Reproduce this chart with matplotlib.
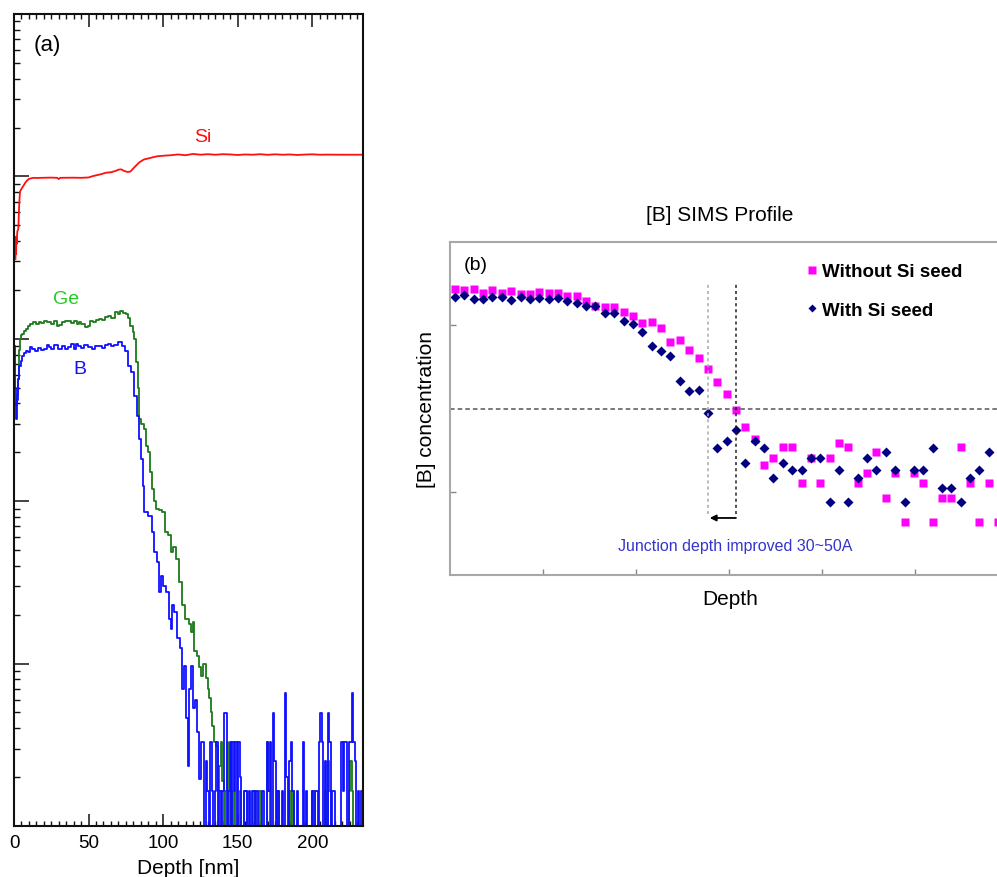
import numpy as np
import matplotlib
matplotlib.use("Agg")
import matplotlib.pyplot as plt
from matplotlib.ticker import MultipleLocator, LogLocator, NullFormatter, FixedLocator

plt.rcParams["font.family"] = ["Liberation Sans", "DejaVu Sans"]

# ---- (a) SIMS depth profiles, arbitrary units, log scale ----
si_depth = [1.0, 1.2, 1.4, 1.6, 1.8, 2.2, 2.9, 3.5, 4.0, 5.0,
            6.3, 7.5, 8.5, 10, 13, 16, 20, 25, 29, 30,
            31, 35, 40, 45, 50, 53, 55, 58, 62, 65,
            68, 70, 72, 73, 74, 76, 78, 80, 82, 84,
            87, 90, 93, 96, 100, 105, 110, 115, 120, 125,
            130, 135, 140, 145, 150, 155, 160, 165, 170, 175,
            180, 185, 190, 195, 200, 205, 210, 215, 220, 225,
            230, 234]
si_conc = [31000, 42500, 33300, 41200, 38400, 45700, 47500, 67600, 80400, 83800,
           87500, 91300, 93800, 96600, 98000, 97800, 98100, 98300, 98000, 96300,
           98000, 98100, 98200, 98000, 98500, 100500, 101500, 103000, 105500, 106000,
           108000, 110000, 110500, 109000, 108000, 106500, 107000, 112000, 117000, 122000,
           127000, 129000, 131000, 133000, 134000, 135000, 136500, 135000, 137500, 136000,
           137000, 136000, 137000, 136500, 135500, 136500, 136000, 137000, 135800, 136800,
           136000, 136500, 135500, 136300, 136800, 136000, 136200, 136100, 136000, 136000,
           136000, 136000]

ge_depth = [1.5, 2.2, 2.9, 3.5, 4.0, 5.0, 6.2, 7.5, 8.5, 10,
            11.9, 14, 16, 17.4, 19, 21, 23, 24.2, 26, 28,
            30, 31, 33, 35, 37.6, 39, 41, 43, 44.3, 46,
            48.8, 50, 52.1, 54, 56, 57.7, 60, 62, 64.4, 66,
            68.9, 70, 72.3, 74, 75.6, 77, 79, 80, 81.2, 82.3,
            83.5, 84.6, 86, 87.9, 89.3, 90.5, 91.3, 93.3, 95, 96,
            98, 100, 102.7, 104, 106, 107.5, 109.4, 111.4, 113.4, 116.1,
            118, 119.5, 120.5, 121.5, 123.5, 125, 126.2, 127.5, 129.5, 130.5,
            131.5, 132.5, 133.6, 135, 136.2, 137, 138.3, 139, 140.3]
ge_conc = [3890, 4500, 5680, 8500, 10000, 10500, 10740, 11200, 11530, 12000,
           12360, 12700, 12300, 12740, 12500, 12900, 12600, 12740, 12400, 12800,
           12000, 12100, 12600, 12900, 12910, 12500, 12800, 12400, 12740, 12300,
           11860, 12000, 12910, 12700, 13000, 13270, 13100, 13600, 13870, 13500,
           14660, 14200, 14860, 14500, 14260, 13500, 12020, 11000, 10000, 7210,
           5000, 3220, 3000, 2790, 2200, 2000, 1520, 1190, 1000, 900,
           880, 861, 649, 620, 489, 520, 443, 320, 228, 189,
           175, 157, 180, 119, 112, 95, 84, 100, 81, 70,
           61, 50, 41.5, 33, 31, 16.5, 23.5, 33, 18.8]
# noise floor, 1 nm steps from 141 nm
ge_tail = [0, 16.5, 33, 0, 16.5, 16.5, 0, 16.5, 0, 0,
           0, 16.5, 0, 0, 16.5, 16.5, 0, 0, 0, 0,
           16.5, 0, 0, 0, 16.5, 0, 0, 0, 0, 33,
           16.5, 0, 0, 0, 0, 0, 16.5, 0, 0, 0,
           0, 0, 0, 0, 16.5, 0, 16.5, 0, 0, 0,
           0, 0, 0, 0, 0, 0, 0, 0, 0, 16.5,
           16.5, 0, 0, 0, 0, 0, 0, 0, 16.5, 0,
           25, 16.5, 0, 0, 0, 0, 0, 0, 0, 0,
           0, 0, 0, 0, 16.5, 25, 16.5, 0, 0, 0,
           0, 0, 0, 0]

b_depth = [0.7, 1.2, 1.8, 2.3, 2.9, 4.0, 5.0, 6.2, 7.5, 8.5,
           10, 11, 13, 15, 17, 19.7, 21, 23, 24.2, 26,
           28, 30.9, 33, 35, 37.6, 39, 41, 42, 44.3, 46,
           48, 51, 53, 55, 57.7, 60, 62, 64.4, 66, 68,
           71.1, 73.4, 75.6, 77.9, 79.2, 81.2, 83.2, 84.6, 85.9, 86.6,
           87.9, 91.3, 93.3, 94.6, 96.6, 98.0, 99.3, 101, 102.7, 104.7,
           105.4, 106.5, 108.1, 110.1, 112.8, 113.1, 114.8, 116.1, 116.8, 118,
           119.5, 120.1, 122, 123.5, 124.8, 125.5]
b_conc = [9060, 5000, 3220, 4200, 5680, 6820, 7300, 7860, 8200, 8430,
          8300, 8900, 8670, 8400, 8800, 8510, 8700, 9100, 8930, 8600,
          9200, 8670, 9000, 8700, 8930, 9300, 8700, 9300, 9060, 8800,
          9100, 8930, 8700, 9000, 9060, 8800, 9200, 9310, 9000, 9200,
          9590, 9060, 8430, 6820, 6270, 4460, 3360, 2430, 1830, 1245,
          861, 814, 649, 489, 425, 277, 348, 300, 277, 189,
          164, 230, 209, 143, 124, 70, 97, 46, 23.5, 70,
          97, 53, 60, 38, 19.6, 33]
# noise floor, 1 nm steps from 127 nm
b_tail = [33, 0, 25, 16.5, 0, 33, 16.5, 0, 16.5, 33,
          0, 16.5, 0, 16.5, 49.5, 49.5, 0, 16.5, 33, 0,
          33, 16.5, 33, 0, 33, 20, 0, 0, 16.5, 16.5,
          0, 16.5, 0, 16.5, 16.5, 0, 16.5, 0, 0, 0,
          16.5, 0, 0, 33, 16.5, 33, 0, 49.5, 25, 0,
          16.5, 0, 0, 16.5, 0, 66, 20, 0, 25, 33,
          16.5, 0, 0, 16.5, 0, 0, 0, 33, 0, 16.5,
          0, 0, 0, 16.5, 0, 16.5, 16.5, 0, 33, 49.5,
          33, 0, 25, 0, 49.5, 33, 0, 16.5, 16.5, 0,
          0, 0, 0, 33, 16.5, 33, 33, 0, 33, 33,
          66, 33, 25, 0, 16.5, 0, 16.5, 16.5]

# ---- (b) [B] SIMS profile, relative units ----
without_seed = [3.435, 3.423, 3.435, 3.387, 3.423, 3.387, 3.415, 3.375, 3.375, 3.396,
                3.387, 3.387, 3.348, 3.355, 3.288, 3.228, 3.216, 3.216, 3.156, 3.108,
                3.027, 3.043, 2.963, 2.795, 2.823, 2.703, 2.607, 2.474, 2.322, 2.171,
                1.982, 1.778, 1.634, 1.325, 1.403, 1.534, 1.534, 1.105, 1.402, 1.105,
                1.402, 1.580, 1.534, 1.105, 1.231, 1.474, 0.927, 1.225, 0.633, 1.225,
                1.105, 0.633, 0.927, 0.927, 1.534, 1.105, 0.633, 1.105, 0.633]
with_seed = [3.336, 3.363, 3.315, 3.315, 3.336, 3.336, 3.303, 3.343, 3.315, 3.327,
             3.315, 3.327, 3.295, 3.264, 3.235, 3.228, 3.144, 3.144, 3.055, 3.015,
             2.923, 2.747, 2.694, 2.631, 2.334, 2.214, 2.226, 1.942, 1.522, 1.604,
             1.745, 1.342, 1.606, 1.520, 1.163, 1.342, 1.264, 1.264, 1.403, 1.403,
             0.873, 1.264, 0.873, 1.165, 1.403, 1.264, 1.474, 1.264, 0.873, 1.264,
             1.264, 1.522, 1.045, 1.045, 0.873, 1.165, 1.264, 1.474]
junction_without = 30
junction_with = 27

fig = plt.figure(figsize=(9.97, 8.78), dpi=100)

# ---------------- panel (a) ----------------
ax1 = fig.add_axes([14 / 997, 51 / 878, 349 / 997, 812 / 878])
ge_x = np.concatenate([ge_depth, np.arange(141, 141 + len(ge_tail))])
ge_y = np.concatenate([ge_conc, ge_tail])
b_x = np.concatenate([b_depth, np.arange(127, 127 + len(b_tail))])
b_y = np.concatenate([b_conc, b_tail])

ax1.plot(si_depth, si_conc, color="#ff1010", lw=1.3)
ax1.plot(ge_x, ge_y, color="#1d7a1d", lw=1.3, drawstyle="steps-mid")
ax1.plot(b_x, b_y, color="#1010ff", lw=1.3, drawstyle="steps-mid")

ax1.set_yscale("log", nonpositive="clip")
ax1.set_xlim(0, 234)
ax1.set_ylim(10, 1e6)
ax1.xaxis.set_major_locator(MultipleLocator(50))
ax1.xaxis.set_minor_locator(MultipleLocator(5))
ax1.yaxis.set_major_locator(LogLocator(base=10, numticks=20))
ax1.yaxis.set_minor_locator(LogLocator(base=10, subs=np.arange(2, 10), numticks=100))
ax1.yaxis.set_minor_formatter(NullFormatter())
ax1.tick_params(which="both", direction="in", top=True, right=False,
                labelleft=False, color="#111111")
ax1.tick_params(axis="x", which="major", length=9, width=1.1, labelsize=13.5, pad=6)
ax1.tick_params(axis="x", which="minor", length=3.6, width=1.0)
ax1.tick_params(axis="y", which="major", length=11, width=1.1)
ax1.tick_params(axis="y", which="minor", length=4.6, width=1.0)
for s in ax1.spines.values():
    s.set_linewidth(1.5)
    s.set_color("#111111")
ax1.set_xlabel("Depth [nm]", fontsize=15, labelpad=5)

ax1.text(0.095, 0.963, "(a)", transform=ax1.transAxes, fontsize=16, ha="center", va="center")
ax1.text(0.542, 0.849, "Si", transform=ax1.transAxes, fontsize=14, color="#ff1010",
         ha="center", va="center")
ax1.text(0.149, 0.650, "Ge", transform=ax1.transAxes, fontsize=14, color="#22cc22",
         ha="center", va="center")
ax1.text(0.189, 0.563, "B", transform=ax1.transAxes, fontsize=14, color="#1010ff",
         ha="center", va="center")

# ---------------- panel (b) ----------------
ax2 = fig.add_axes([450 / 997, 302 / 878, 560 / 997, 333 / 878])
idx_wo = np.arange(len(without_seed))
idx_w = np.arange(len(with_seed))
ax2.plot(idx_wo, without_seed, "s", color="#ff00ff", ms=6.0, mec="none",
         label="Without Si seed")
ax2.plot(idx_w, with_seed, "D", color="#000080", ms=5.0, mec="none",
         label="With Si seed")

ax2.set_xlim(-0.534, 59.26)
ax2.set_ylim(0, 4)
ax2.xaxis.set_major_locator(FixedLocator([-0.534 + 9.93 * k for k in range(1, 7)]))
ax2.yaxis.set_major_locator(FixedLocator([1, 3]))
ax2.tick_params(direction="in", length=4, width=1.0, color="#888888",
                labelbottom=False, labelleft=False)
for name, s in ax2.spines.items():
    s.set_color("#a8a8a8")
    s.set_linewidth(1.5)
ax2.spines["right"].set_visible(False)

ax2.axhline(2, color="#555555", lw=1.1, ls=(0, (3, 2)))
ax2.vlines(junction_with, 0.733, 3.495, colors="#aaaaaa", lw=1.1, linestyles=(0, (2, 2)))
ax2.vlines(junction_without, 0.733, 3.495, colors="#222222", lw=1.1, linestyles=(0, (2, 2)))
ax2.annotate("", xy=(junction_with + 0.2, 0.685), xytext=(junction_without, 0.685),
             arrowprops=dict(arrowstyle="-|>", color="black", lw=1.3, mutation_scale=9,
                             shrinkA=0, shrinkB=0))
ax2.text(29.9, 0.36, "Junction depth improved 30~50A", fontsize=11.5, color="#3535cc",
         ha="center", va="center")

ax2.text(0.481, 1.084, "[B] SIMS Profile", transform=ax2.transAxes, fontsize=15,
         ha="center", va="center")
ax2.text(0.0464, 0.931, "(b)", transform=ax2.transAxes, fontsize=14,
         ha="center", va="center")
ax2.set_ylabel("[B] concentration", fontsize=15, labelpad=10)
ax2.set_xlabel("Depth", fontsize=15, labelpad=10)

ax2.legend(loc="upper left", bbox_to_anchor=(0.638, 0.936), frameon=False,
           borderpad=0, borderaxespad=0, handlelength=0.5, handletextpad=0.3,
           labelspacing=1.13, markerscale=0.9,
           prop={"size": 13.5, "weight": "bold"})

fig.savefig("out.png", dpi=100)
